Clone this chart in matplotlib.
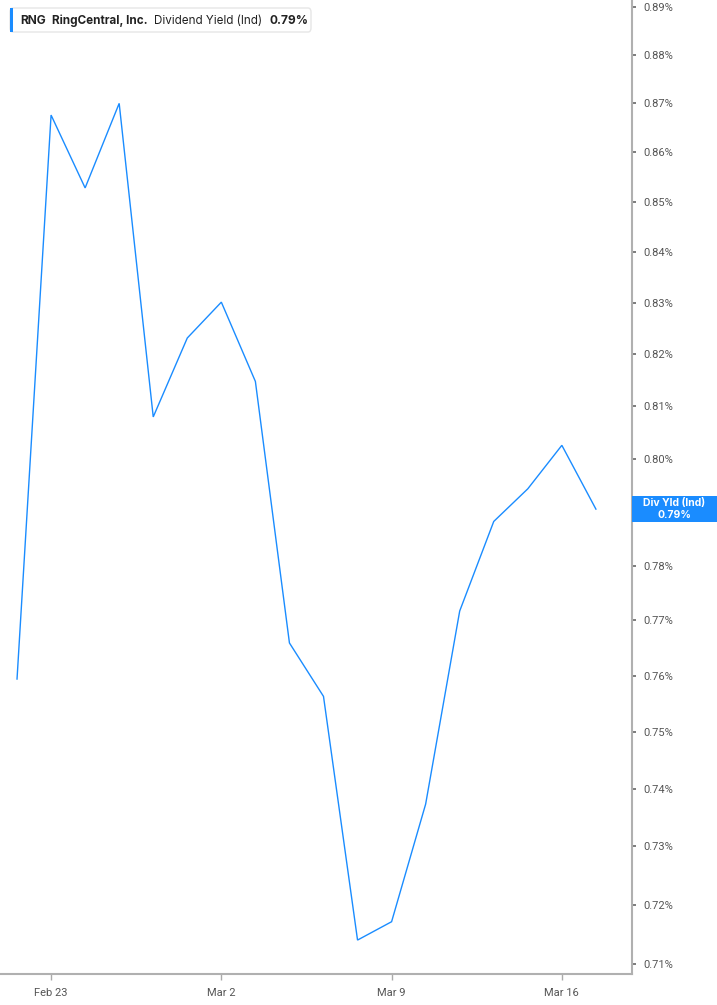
import matplotlib
matplotlib.use("Agg")
import matplotlib.pyplot as plt
from matplotlib.patches import FancyBboxPatch, Rectangle
from matplotlib.ticker import FixedLocator, NullLocator, FuncFormatter
import numpy as np

dates = ["Feb 20", "Feb 23", "Feb 24", "Feb 25", "Feb 26", "Feb 27",
         "Mar 2", "Mar 3", "Mar 4", "Mar 5", "Mar 6", "Mar 9",
         "Mar 10", "Mar 11", "Mar 12", "Mar 13", "Mar 16", "Mar 17"]
yield_pct = [0.7594, 0.8676, 0.8528, 0.8700, 0.8079, 0.8231,
             0.8301, 0.8147, 0.7659, 0.7563, 0.7140, 0.7171,
             0.7373, 0.7717, 0.7882, 0.7943, 0.8025, 0.7905]
y_ticks = [0.71, 0.72, 0.73, 0.74, 0.75, 0.76, 0.77, 0.78, 0.79,
           0.80, 0.81, 0.82, 0.83, 0.84, 0.85, 0.86, 0.87, 0.88, 0.89]
hidden_tick = 0.79  # covered by the last-value label
x_tick_labels = ["Feb 23", "Mar 2", "Mar 9", "Mar 16"]
last_value_label = "0.79%"

W, H = 717, 1005
fig = plt.figure(figsize=(W / 100, H / 100), dpi=100)
ax = fig.add_axes([0, 31 / H, 632 / W, 1 - 31 / H])

LINE = "#1a8cff"
x = np.arange(len(dates))
ax.plot(x, yield_pct, color=LINE, lw=1.0, solid_joinstyle="miter")

ax.set_yscale("log")
ax.set_ylim(0.7083, 0.8915)
ax.set_xlim(-0.5, 18.06)

ax.yaxis.set_major_locator(FixedLocator(y_ticks))
ax.yaxis.set_minor_locator(NullLocator())
ax.yaxis.set_major_formatter(FuncFormatter(
    lambda v, p: "" if abs(v - hidden_tick) < 1e-6 else f"{v:.2f}%"))
ax.yaxis.tick_right()
ax.tick_params(axis="y", which="major", length=3, width=1.2, color="#666666",
               labelsize=8, labelcolor="#555555", pad=5)
for lab in ax.get_yticklabels():
    lab.set_fontfamily("Roboto")

xt = [dates.index(d) for d in x_tick_labels]
ax.set_xticks(xt)
ax.set_xticklabels(x_tick_labels, fontfamily="Roboto", fontsize=8, color="#555555")
ax.tick_params(axis="x", length=4, width=1, color="#aaaaaa", pad=6)

for s in ["top", "left"]:
    ax.spines[s].set_visible(False)
for s in ["right", "bottom"]:
    ax.spines[s].set_color("#b0b0b0")
    ax.spines[s].set_linewidth(1.5)

# last value label on right axis
fig.canvas.draw()
ylast = ax.transData.transform((0, yield_pct[-1]))[1]
bx0, bw, bh = 632, W - 632, 26
fig.patches.append(Rectangle((bx0 / W, (ylast - bh / 2) / H), bw / W, bh / H,
                             transform=fig.transFigure, facecolor="#1a8cff",
                             edgecolor="none", zorder=5))
fig.text((bx0 + bw / 2) / W, (ylast + 6) / H, "Div Yld (Ind)", ha="center", va="center",
         color="white", fontsize=7.5, fontweight="bold", fontfamily="Inter", zorder=6)
fig.text((bx0 + bw / 2) / W, (ylast - 5.5) / H, last_value_label, ha="center", va="center",
         color="white", fontsize=7.5, fontweight="bold", fontfamily="Inter", zorder=6)

# legend box top-left
def fx(px):
    return px / W
def fy(py):
    return 1 - py / H

fig.patches.append(FancyBboxPatch((fx(10), fy(32)), (311 - 10) / W, 24 / H,
                                  boxstyle="round,pad=0,rounding_size=0.004",
                                  transform=fig.transFigure, facecolor="white",
                                  edgecolor="#e6e6e6", lw=1, zorder=5))
fig.patches.append(Rectangle((fx(10), fy(32)), 3 / W, 24 / H, transform=fig.transFigure,
                             facecolor="#1a8cff", edgecolor="none", zorder=6))
ty = fy(20.5)
fig.text(fx(20), ty, "RNG", fontsize=8.6, fontweight="bold", fontfamily="Inter",
         color="#222222", va="center", zorder=7)
fig.text(fx(52), ty, "RingCentral, Inc.", fontsize=8.4, fontweight="bold", fontfamily="Inter",
         color="#222222", va="center", zorder=7)
fig.text(fx(154), ty, "Dividend Yield (Ind)", fontsize=8.4, fontfamily="Inter",
         color="#222222", va="center", zorder=7)
fig.text(fx(269), ty, last_value_label, fontsize=8.6, fontweight="bold", fontfamily="Inter",
         color="#222222", va="center", zorder=7)

fig.savefig("out.png", dpi=100)
